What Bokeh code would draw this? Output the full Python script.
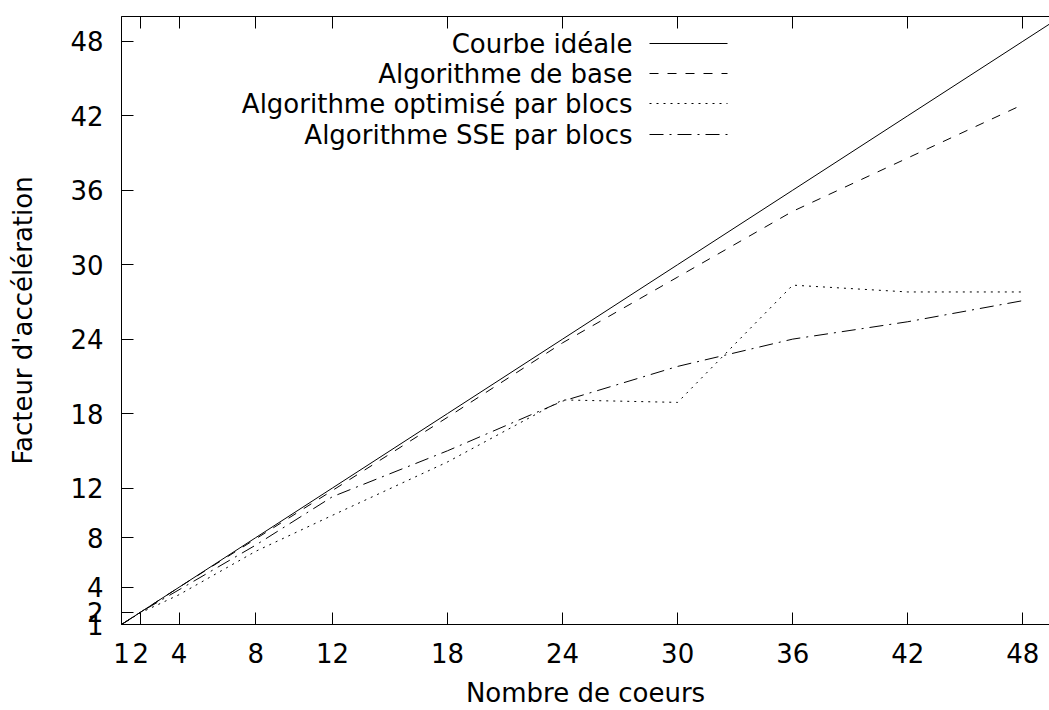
from bokeh.plotting import figure
from bokeh.models import Range1d, FixedTicker, LinearAxis, Label, Arrow, CustomJSTickFormatter
from bokeh.embed import file_html
from bokeh.resources import INLINE

# ---- data ----
cores = [1, 2, 4, 8, 12, 18, 24, 30, 36, 42, 48]
ideal_cores = [1, 2, 4, 8, 12, 18, 24, 30, 36, 42, 48, 50]
ideal_speedup = [1, 2, 4, 8, 12, 18, 24, 30, 36, 42, 48, 50]
base_speedup = [1, 2.0, 4.0, 7.9, 11.8, 17.7, 23.7, 29.0, 34.3, 38.6, 42.9]
opt_speedup = [1, 1.95, 3.4, 6.9, 9.8, 14.1, 19.1, 18.9, 28.35, 27.8, 27.8]
sse_speedup = [1, 2.0, 3.8, 7.4, 11.3, 15.0, 19.0, 21.8, 24.0, 25.4, 27.1]
tick_values = [1, 2, 4, 8, 12, 18, 24, 30, 36, 42, 48]
series_labels = ["Courbe idéale", "Algorithme de base",
                 "Algorithme optimisé par blocs", "Algorithme SSE par blocs"]
x_label = "Nombre de coeurs"
y_label = "Facteur d'accélération"

FONT = "DejaVu Sans"
FS = "26px"

p = figure(width=1049, height=710,
           x_range=Range1d(1, 49.39), y_range=Range1d(1, 50),
           x_axis_type=None, y_axis_type=None,
           output_backend="svg", toolbar_location=None,
           min_border_left=121, min_border_right=0,
           min_border_top=16, min_border_bottom=85,
           outline_line_color=None, background_fill_color="white",
           border_fill_color="white")


def style_axis(ax, show_labels=True):
    ax.ticker = FixedTicker(ticks=tick_values, minor_ticks=[])
    ax.major_tick_in = 12
    ax.major_tick_out = 0
    ax.minor_tick_in = 0
    ax.minor_tick_out = 0
    ax.axis_line_color = "black"
    ax.axis_line_width = 1
    ax.major_tick_line_color = "black"
    ax.major_label_text_font = FONT
    ax.major_label_text_font_size = FS
    ax.major_label_text_color = "black"
    ax.axis_label_text_font = FONT
    ax.axis_label_text_font_size = FS
    ax.axis_label_text_font_style = "normal"
    ax.axis_label_text_color = "black"
    if not show_labels:
        ax.formatter = CustomJSTickFormatter(code="return '';")
        ax.major_label_standoff = 0


bottom = LinearAxis(axis_label=x_label)
style_axis(bottom)
bottom.major_label_standoff = 18
bottom.axis_label_standoff = 12
p.add_layout(bottom, "below")

left = LinearAxis(axis_label=y_label)
style_axis(left)
left.major_label_standoff = 18
left.axis_label_standoff = 29
p.add_layout(left, "left")

top = LinearAxis()
style_axis(top, show_labels=False)
p.add_layout(top, "above")

styles = [
    dict(line_dash="solid"),
    dict(line_dash="9 9"),
    dict(line_dash="2 5"),
    dict(line_dash="14 6 2 6"),
]

p.line(ideal_cores, ideal_speedup, line_color="black", line_width=1, **styles[0])
p.line(cores, base_speedup, line_color="black", line_width=1, **styles[1])
p.line(cores, opt_speedup, line_color="black", line_width=1, **styles[2])
p.line(cores, sse_speedup, line_color="black", line_width=1, **styles[3])

# gnuplot-style key: label text right-aligned, line sample to its right
row_y = [581, 551, 521, 490]
for lbl, st, ry in zip(series_labels, styles, row_y):
    p.add_layout(Label(x=511, y=ry, x_units="screen", y_units="screen",
                       text=lbl, text_align="right", text_baseline="middle",
                       text_font=FONT, text_font_size=FS, text_color="black"))
    p.add_layout(Arrow(x_start=528, y_start=ry, x_end=606, y_end=ry,
                       start_units="screen", end_units="screen",
                       start=None, end=None, line_color="black",
                       line_width=1, **st))

open("out.html", "w").write(file_html(p, INLINE))
